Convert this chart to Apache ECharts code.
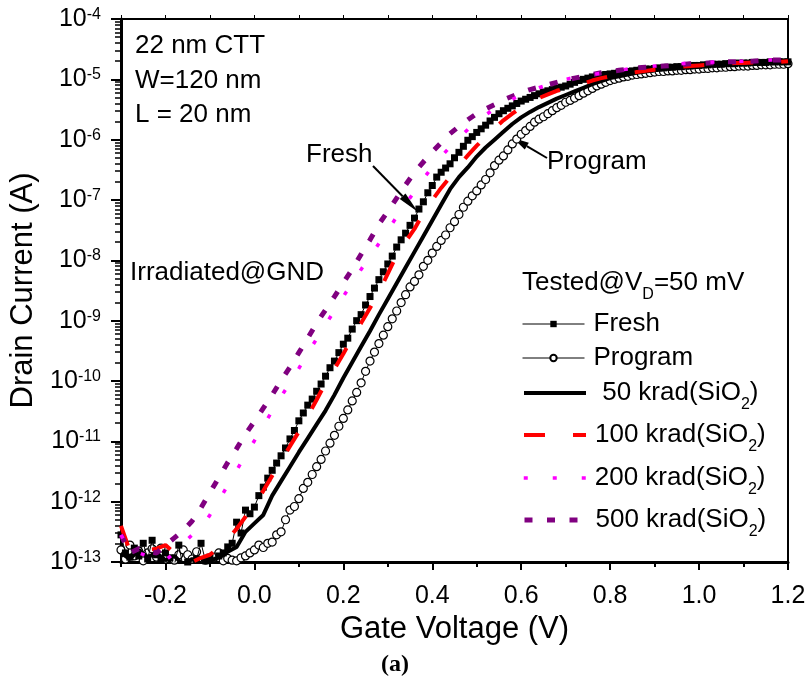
<!DOCTYPE html>
<html>
<head>
<meta charset="utf-8">
<script src="https://cdn.jsdelivr.net/npm/echarts@6/dist/echarts.min.js"></script>
<style>
html, body { margin: 0; padding: 0; background: #fff; }
#main { width: 811px; height: 683px; }
</style>
</head>
<body>
<div id="main"></div>
<script>
var fontSans = '"Liberation Sans", Arial, sans-serif';

// gate voltage sweep (V), 10 mV steps for the marker curves, 20 mV for the irradiated ones
function sweep(start, step, n) {
    var out = [];
    for (var i = 0; i < n; i++) out.push(Math.round((start + i * step) * 100) / 100);
    return out;
}
var vFine = sweep(-0.3, 0.01, 151);
var vCoarse = sweep(-0.3, 0.02, 76);

// log10 of drain current (A)
var freshLog = [
    -12.55, -12.85, -12.92, -12.77, -12.90, -12.69, -12.95, -12.64, -12.88, -12.97,
    -12.85, -12.93, -13.05, -12.72, -13.10, -13.00, -13.10, -12.95, -12.69, -12.98,
    -12.92, -13.05, -12.90, -12.85, -12.75, -12.69, -12.34, -12.52, -12.14, -12.20,
    -12.09, -11.90, -11.76, -11.61, -11.48, -11.36, -11.24, -11.11, -10.96, -10.82,
    -10.66, -10.53, -10.40, -10.30, -10.17, -10.05, -9.92, -9.78, -9.67, -9.53,
    -9.39, -9.29, -9.14, -9.00, -8.90, -8.74, -8.60, -8.46, -8.32, -8.19,
    -8.06, -7.93, -7.78, -7.66, -7.55, -7.42, -7.30, -7.15, -7.03, -6.88,
    -6.76, -6.62, -6.54, -6.47, -6.40, -6.30, -6.21, -6.11, -6.01, -5.95,
    -5.88, -5.82, -5.76, -5.69, -5.63, -5.57, -5.52, -5.48, -5.44, -5.40,
    -5.36, -5.33, -5.30, -5.27, -5.24, -5.21, -5.19, -5.17, -5.15, -5.13,
    -5.11, -5.08, -5.05, -5.02, -5.00, -4.98, -4.96, -4.95, -4.93, -4.92,
    -4.91, -4.90, -4.89, -4.88, -4.87, -4.86, -4.85, -4.84, -4.83, -4.83,
    -4.82, -4.81, -4.81, -4.80, -4.80, -4.79, -4.79, -4.78, -4.78, -4.77,
    -4.77, -4.76, -4.76, -4.75, -4.75, -4.75, -4.74, -4.74, -4.74, -4.73,
    -4.73, -4.73, -4.72, -4.72, -4.72, -4.72, -4.71, -4.71, -4.71, -4.71,
    -4.71
];
var programLog = [
    -12.80, -12.95, -12.72, -12.90, -12.82, -12.98, -12.85, -12.78, -12.92, -12.77,
    -12.95, -13.05, -12.97, -12.88, -12.80, -12.88, -12.95, -12.83, -13.05, -12.97,
    -13.05, -12.92, -12.85, -12.98, -12.94, -12.97, -12.98, -12.93, -12.90, -12.85,
    -12.80, -12.72, -12.76, -12.69, -12.67, -12.55, -12.50, -12.30, -12.14, -12.08,
    -11.95, -11.78, -11.68, -11.55, -11.42, -11.30, -11.16, -11.03, -10.90, -10.75,
    -10.62, -10.48, -10.33, -10.19, -10.03, -9.84, -9.67, -9.52, -9.38, -9.24,
    -9.10, -8.97, -8.84, -8.70, -8.57, -8.44, -8.35, -8.24, -8.10, -8.00,
    -7.88, -7.77, -7.67, -7.58, -7.46, -7.36, -7.24, -7.12, -7.02, -6.93,
    -6.85, -6.75, -6.66, -6.55, -6.43, -6.34, -6.27, -6.17, -6.07, -5.99,
    -5.91, -5.85, -5.78, -5.71, -5.66, -5.62, -5.57, -5.52, -5.47, -5.43,
    -5.38, -5.35, -5.31, -5.27, -5.23, -5.19, -5.15, -5.11, -5.08, -5.05,
    -5.02, -5.00, -4.98, -4.96, -4.95, -4.93, -4.92, -4.91, -4.90, -4.89,
    -4.88, -4.87, -4.87, -4.86, -4.86, -4.85, -4.85, -4.84, -4.84, -4.83,
    -4.83, -4.82, -4.82, -4.81, -4.81, -4.80, -4.80, -4.79, -4.79, -4.78,
    -4.78, -4.78, -4.77, -4.77, -4.76, -4.76, -4.76, -4.75, -4.75, -4.75,
    -4.74
];
var krad50Log = [
    -12.85, -12.95, -12.80, -12.92, -12.85, -12.97, -12.90, -13.05, -12.95, -13.05,
    -12.98, -12.92, -12.83, -12.75, -12.50, -12.36, -12.22, -11.90, -11.66, -11.42,
    -11.18, -10.95, -10.72, -10.49, -10.23, -9.95, -9.69, -9.43, -9.17, -8.90,
    -8.64, -8.38, -8.12, -7.86, -7.60, -7.34, -7.08, -6.82, -6.62, -6.46,
    -6.28, -6.13, -6.00, -5.87, -5.74, -5.63, -5.54, -5.46, -5.39, -5.32,
    -5.26, -5.20, -5.14, -5.08, -5.03, -4.98, -4.95, -4.92, -4.89, -4.87,
    -4.85, -4.83, -4.81, -4.80, -4.79, -4.78, -4.77, -4.76, -4.75, -4.74,
    -4.73, -4.73, -4.72, -4.72, -4.71, -4.71
];
var krad100Log = [
    -12.40, -12.82, -12.80, -12.80, -12.78, -12.72, -12.85, -12.97, -13.00, -12.93,
    -12.88, -12.76, -12.62, -12.45, -12.25, -12.05, -11.82, -11.57, -11.33, -11.08,
    -10.84, -10.58, -10.31, -10.03, -9.80, -9.55, -9.28, -9.04, -8.79, -8.53,
    -8.22, -7.91, -7.69, -7.48, -7.22, -7.00, -6.80, -6.62, -6.43, -6.26,
    -6.10, -5.95, -5.81, -5.68, -5.57, -5.46, -5.38, -5.31, -5.25, -5.19,
    -5.15, -5.11, -5.07, -5.02, -4.98, -4.95, -4.92, -4.90, -4.88, -4.86,
    -4.84, -4.83, -4.81, -4.79, -4.78, -4.77, -4.76, -4.75, -4.74, -4.73,
    -4.73, -4.72, -4.72, -4.71, -4.71, -4.70
];
var krad200Log = [
    -12.55, -12.80, -12.85, -12.90, -12.97, -12.97, -12.85, -12.69, -12.55, -12.45,
    -12.22, -11.98, -11.73, -11.48, -11.23, -10.99, -10.74, -10.50, -10.26, -10.03,
    -9.79, -9.54, -9.30, -9.07, -8.83, -8.60, -8.37, -8.15, -7.94, -7.72,
    -7.50, -7.28, -7.07, -6.86, -6.65, -6.45, -6.28, -6.12, -5.97, -5.83,
    -5.71, -5.59, -5.49, -5.40, -5.33, -5.26, -5.20, -5.14, -5.09, -5.04,
    -5.00, -4.97, -4.94, -4.92, -4.90, -4.88, -4.85, -4.83, -4.81, -4.79,
    -4.78, -4.77, -4.75, -4.74, -4.73, -4.72, -4.72, -4.71, -4.71, -4.70,
    -4.70, -4.69, -4.69, -4.68, -4.68, -4.68
];
var krad500Log = [
    -12.55, -12.85, -12.78, -12.82, -12.85, -12.72, -12.60, -12.48, -12.32, -12.10,
    -11.85, -11.60, -11.35, -11.12, -10.88, -10.67, -10.45, -10.23, -9.99, -9.77,
    -9.53, -9.29, -9.04, -8.82, -8.60, -8.37, -8.15, -7.90, -7.66, -7.40,
    -7.19, -6.97, -6.75, -6.54, -6.37, -6.20, -6.05, -5.90, -5.78, -5.67,
    -5.57, -5.49, -5.42, -5.34, -5.28, -5.22, -5.17, -5.13, -5.09, -5.05,
    -5.01, -4.98, -4.95, -4.92, -4.89, -4.87, -4.85, -4.83, -4.81, -4.80,
    -4.79, -4.78, -4.77, -4.76, -4.74, -4.74, -4.73, -4.72, -4.71, -4.71,
    -4.70, -4.70, -4.69, -4.68, -4.68, -4.67
];

var seriesNames = ['Fresh', 'Program', '50 krad(SiO2)', '100 krad(SiO2)', '200 krad(SiO2)', '500 krad(SiO2)'];
var xMajorTicks = [-0.2, 0, 0.2, 0.4, 0.6, 0.8, 1.0, 1.2];
var xMinorTicks = [-0.3, -0.1, 0.1, 0.3, 0.5, 0.7, 0.9, 1.1];

function pairs(xs, logs) {
    return logs.map(function (e, i) { return [xs[i], Math.pow(10, e)]; });
}

// minor log ticks (2..9 x each decade), placed on a helper axis in log10 units
var yMinorTicks = [];
for (var d = -13; d < -4; d++) {
    for (var k = 2; k <= 9; k++) yMinorTicks.push(d + Math.log10(k));
}

function arrow(x1, y1, x2, y2, headLen, headHalf) {
    var len = Math.sqrt((x2 - x1) * (x2 - x1) + (y2 - y1) * (y2 - y1));
    var ux = (x2 - x1) / len, uy = (y2 - y1) / len;
    var bx = x2 - ux * headLen, by = y2 - uy * headLen;
    return [{
        type: 'line',
        shape: { x1: x1, y1: y1, x2: bx, y2: by },
        style: { stroke: '#000', lineWidth: 2 }
    }, {
        type: 'polygon',
        shape: { points: [[x2, y2], [bx - uy * headHalf, by + ux * headHalf], [bx + uy * headHalf, by - ux * headHalf]] },
        style: { fill: '#000' }
    }];
}

// icon centres: 324, 358, 393, 435, 478, 520 (text line height 40)
var legendTops = [304, 338, 373, 415, 458, 500];
var legendWidths = [1, 1, 4, 4, 3.5, 5];
// subscript: pinned to the line top, pushed down by padding
var subRich = {
    sub: { fontSize: 16, lineHeight: 16, verticalAlign: 'top', padding: [24, 0, 0, 0], fontFamily: fontSans, color: '#000' }
};

var chartDom = document.getElementById('main');
var myChart = echarts.init(chartDom);
var option;

option = {
    animation: false,
    backgroundColor: '#fff',
    textStyle: { fontFamily: fontSans, color: '#000' },
    grid: {
        left: 120, right: 23, top: 19, bottom: 121,
        show: true, borderColor: '#000', borderWidth: 2
    },
    legend: seriesNames.map(function (name, i) {
        return {
            data: [name],
            left: 522,
            top: legendTops[i],
            padding: 0,
            itemWidth: 62,
            itemHeight: 8,
            selectedMode: false,
            lineStyle: { width: legendWidths[i] },
            itemStyle: i < 2 ? {} : { opacity: 0 },
            formatter: function (n) {
                var m = n.match(/^(\d+ krad\(SiO)2\)$/);
                if (!m) return n;
                return (n.indexOf('50 ') === 0 ? ' ' : '') + m[1] + '{sub|2})';
            },
            textStyle: {
                fontSize: 26, lineHeight: 40, color: '#000', fontFamily: fontSans,
                padding: [0, 0, 0, 4],
                rich: subRich
            }
        };
    }),
    xAxis: [{
        type: 'value',
        min: -0.3, max: 1.2,
        name: 'Gate Voltage (V)',
        nameLocation: 'middle',
        nameGap: 48,
        nameTextStyle: { fontSize: 31, color: '#000', fontFamily: fontSans },
        axisLine: { show: true, onZero: false, lineStyle: { color: '#000', width: 3 } },
        axisTick: { show: true, length: 8, customValues: xMajorTicks, lineStyle: { color: '#000', width: 2 } },
        axisLabel: {
            customValues: xMajorTicks,
            fontSize: 25, color: '#000', margin: 22, fontFamily: fontSans,
            formatter: function (v) { return v.toFixed(1); }
        },
        splitLine: { show: false }
    }, {
        type: 'value',
        min: -0.3, max: 1.2,
        position: 'bottom',
        axisLine: { show: false, onZero: false },
        axisTick: { show: true, length: 5, customValues: xMinorTicks, lineStyle: { color: '#000', width: 2 } },
        axisLabel: { show: false },
        splitLine: { show: false }
    }, {
        type: 'value',
        min: -0.3, max: 1.2,
        position: 'top',
        axisLine: { show: false, onZero: false },
        axisTick: { show: true, length: 4, customValues: xMajorTicks.concat(xMinorTicks), lineStyle: { color: '#000', width: 1 } },
        axisLabel: { show: false },
        splitLine: { show: false }
    }],
    yAxis: [{
        type: 'log',
        logBase: 10,
        min: 1e-13, max: 1e-4,
        interval: 1,
        name: 'Drain Current (A)',
        nameLocation: 'middle',
        nameGap: 82,
        nameTextStyle: { fontSize: 31, color: '#000', fontFamily: fontSans },
        axisLine: { show: true, onZero: false, lineStyle: { color: '#000', width: 3 } },
        axisTick: { show: true, length: 10, lineStyle: { color: '#000', width: 2 } },
        axisLabel: {
            fontSize: 25, color: '#000', margin: 20, fontFamily: fontSans,
            formatter: function (v) {
                return '10{sup|' + Math.round(Math.log10(v)) + '}';
            },
            rich: {
                sup: { fontSize: 16, verticalAlign: 'top', lineHeight: 16, padding: [0, 0, 6, 0], fontFamily: fontSans, color: '#000' }
            }
        },
        splitLine: { show: false }
    }, {
        type: 'value',
        min: -13, max: -4,
        position: 'left',
        axisLine: { show: false, onZero: false },
        axisTick: { show: true, length: 6, customValues: yMinorTicks, lineStyle: { color: '#000', width: 1.5 } },
        axisLabel: { show: false },
        splitLine: { show: false }
    }],
    graphic: [
        { type: 'text', left: 135, top: 33, style: { text: '22 nm CTT', font: '26px ' + fontSans, fill: '#000' } },
        { type: 'text', left: 135, top: 68, style: { text: 'W=120 nm', font: '26px ' + fontSans, fill: '#000' } },
        { type: 'text', left: 135, top: 102, style: { text: 'L = 20 nm', font: '26px ' + fontSans, fill: '#000' } },
        { type: 'text', left: 306, top: 142, style: { text: 'Fresh', font: '26px ' + fontSans, fill: '#000' } },
        { type: 'text', left: 547, top: 149, style: { text: 'Program', font: '26px ' + fontSans, fill: '#000' } },
        { type: 'text', left: 130, top: 260, style: { text: 'Irradiated@GND', font: '26px ' + fontSans, fill: '#000' } },
        {
            type: 'text', left: 522, top: 263,
            style: {
                text: 'Tested@V{sub|D}=50 mV', font: '26px ' + fontSans, fill: '#000',
                lineHeight: 40, rich: subRich
            }
        },
        { type: 'text', left: 381, top: 653, style: { text: '(a)', font: 'bold 24px "Liberation Serif", "Times New Roman", serif', fill: '#000' } }
    ].concat(arrow(373, 166, 418, 212, 22, 4)).concat(arrow(547, 158, 513, 138, 16, 4)),
    series: [
        {
            name: 'Fresh',
            type: 'line',
            data: pairs(vFine, freshLog),
            symbol: 'rect',
            symbolSize: 7,
            itemStyle: { color: '#000' },
            lineStyle: { color: '#000', width: 1 },
            z: 3
        },
        {
            name: 'Program',
            type: 'line',
            data: pairs(vFine, programLog),
            symbol: 'circle',
            symbolSize: 8,
            itemStyle: { color: '#fff', borderColor: '#000', borderWidth: 1.2 },
            lineStyle: { color: '#000', width: 1 },
            z: 2
        },
        {
            name: '50 krad(SiO2)',
            type: 'line',
            data: pairs(vCoarse, krad50Log),
            symbol: 'none',
            lineStyle: { color: '#000', width: 4 },
            itemStyle: { color: '#000' },
            z: 4
        },
        {
            name: '100 krad(SiO2)',
            type: 'line',
            data: pairs(vCoarse, krad100Log),
            symbol: 'none',
            lineStyle: { color: '#ff0000', width: 4, type: [21, 28] },
            itemStyle: { color: '#ff0000' },
            z: 5
        },
        {
            name: '200 krad(SiO2)',
            type: 'line',
            data: pairs(vCoarse, krad200Log),
            symbol: 'none',
            lineStyle: { color: '#ff00ff', width: 3.5, type: [4, 25] },
            itemStyle: { color: '#ff00ff' },
            z: 6
        },
        {
            name: '500 krad(SiO2)',
            type: 'line',
            data: pairs(vCoarse, krad500Log),
            symbol: 'none',
            lineStyle: { color: '#800080', width: 5, type: [8, 14.5] },
            itemStyle: { color: '#800080' },
            z: 5
        }
    ]
};

option && myChart.setOption(option);
</script>
</body>
</html>
